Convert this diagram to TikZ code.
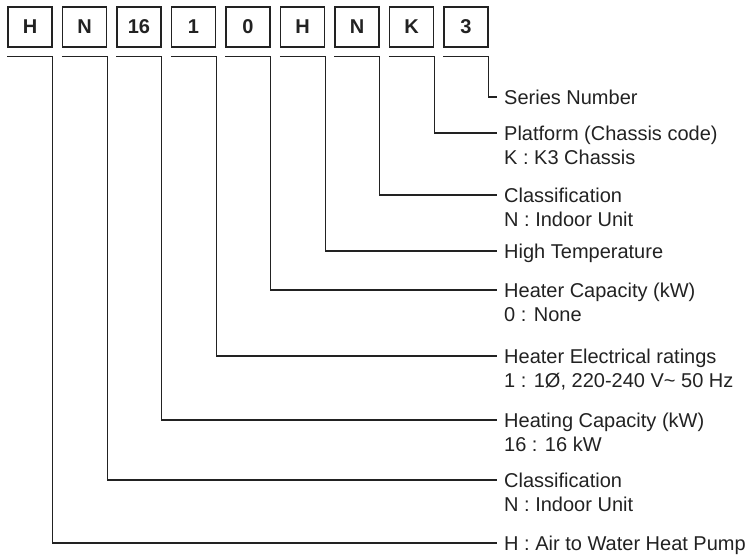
\documentclass[tikz,border=0pt]{standalone}
\usepackage{fontspec}
\setmainfont{Liberation Sans}
\usepackage{tikz}
\usetikzlibrary{positioning}
\usepackage{xcolor}
\definecolor{ink}{HTML}{222222}

\tikzset{
  code_box/.style={rectangle, draw=ink, line width=1.2pt, minimum width=44pt, minimum height=40pt, inner sep=0pt, font=\fontsize{20}{24}\selectfont\bfseries, text=ink},
  lead_line/.style={draw=ink, line width=1.2pt},
  label_text/.style={anchor=base west, inner sep=0pt, font=\fontsize{20}{24}\selectfont, text=ink}
}

\begin{document}
\begin{tikzpicture}[x=1pt, y=-1pt]
\useasboundingbox (0,0) rectangle (749,554);

% code letters
\node[code_box] (box_h) at (30,27) {H};
\node[code_box, right = 9.3pt of box_h] (box_n) {N};
\node[code_box, right = 9.3pt of box_n] (box_cap) {16};
\node[code_box, right = 9.3pt of box_cap] (box_elec) {1};
\node[code_box, right = 9.3pt of box_elec] (box_heater) {0};
\node[code_box, right = 9.3pt of box_heater] (box_temp) {H};
\node[code_box, right = 9.3pt of box_temp] (box_class) {N};
\node[code_box, right = 9.3pt of box_class] (box_chassis) {K};
\node[code_box, right = 9.3pt of box_chassis] (box_series) {3};

% line ends
\coordinate (end_series) at (497,97);
\coordinate (end_chassis) at (497,133);
\coordinate (end_class) at (497,195);
\coordinate (end_temp) at (497,251);
\coordinate (end_heater) at (497,290);
\coordinate (end_elec) at (497,356);
\coordinate (end_cap) at (497,420);
\coordinate (end_n) at (497,480);
\coordinate (end_h) at (497,543);

% descriptions
\node[label_text] (lbl_series) at ([shift={(7pt,-7.2pt)}]end_series) {Series Number};
\node[label_text] (lbl_chassis) at ([shift={(7pt,-7.2pt)}]end_chassis) {\begin{tabular}[t]{@{}l@{}}Platform (Chassis code)\\K : K3 Chassis\end{tabular}};
\node[label_text] (lbl_class) at ([shift={(7pt,-7.2pt)}]end_class) {\begin{tabular}[t]{@{}l@{}}Classification\\N : Indoor Unit\end{tabular}};
\node[label_text] (lbl_temp) at ([shift={(7pt,-7.2pt)}]end_temp) {High Temperature};
\node[label_text] (lbl_heater) at ([shift={(7pt,-7.2pt)}]end_heater) {\begin{tabular}[t]{@{}l@{}}Heater Capacity (kW)\\0 : None\end{tabular}};
\node[label_text] (lbl_elec) at ([shift={(7pt,-7.2pt)}]end_elec) {\begin{tabular}[t]{@{}l@{}}Heater Electrical ratings\\1 : 1Ø, 220-240 V\textasciitilde{} 50 Hz\end{tabular}};
\node[label_text] (lbl_cap) at ([shift={(7pt,-7.2pt)}]end_cap) {\begin{tabular}[t]{@{}l@{}}Heating Capacity (kW)\\16 : 16 kW\end{tabular}};
\node[label_text] (lbl_n) at ([shift={(7pt,-7.2pt)}]end_n) {\begin{tabular}[t]{@{}l@{}}Classification\\N : Indoor Unit\end{tabular}};
\node[label_text] (lbl_h) at ([shift={(7pt,-7.2pt)}]end_h) {H : Air to Water Heat Pump};

% brackets
\draw[lead_line] ([yshift=-9pt]box_series.south west) -- ([yshift=-9pt]box_series.south east) |- (end_series);
\draw[lead_line] ([yshift=-9pt]box_chassis.south west) -- ([yshift=-9pt]box_chassis.south east) |- (end_chassis);
\draw[lead_line] ([yshift=-9pt]box_class.south west) -- ([yshift=-9pt]box_class.south east) |- (end_class);
\draw[lead_line] ([yshift=-9pt]box_temp.south west) -- ([yshift=-9pt]box_temp.south east) |- (end_temp);
\draw[lead_line] ([yshift=-9pt]box_heater.south west) -- ([yshift=-9pt]box_heater.south east) |- (end_heater);
\draw[lead_line] ([yshift=-9pt]box_elec.south west) -- ([yshift=-9pt]box_elec.south east) |- (end_elec);
\draw[lead_line] ([yshift=-9pt]box_cap.south west) -- ([yshift=-9pt]box_cap.south east) |- (end_cap);
\draw[lead_line] ([yshift=-9pt]box_n.south west) -- ([yshift=-9pt]box_n.south east) |- (end_n);
\draw[lead_line] ([yshift=-9pt]box_h.south west) -- ([yshift=-9pt]box_h.south east) |- (end_h);
\end{tikzpicture}
\end{document}
